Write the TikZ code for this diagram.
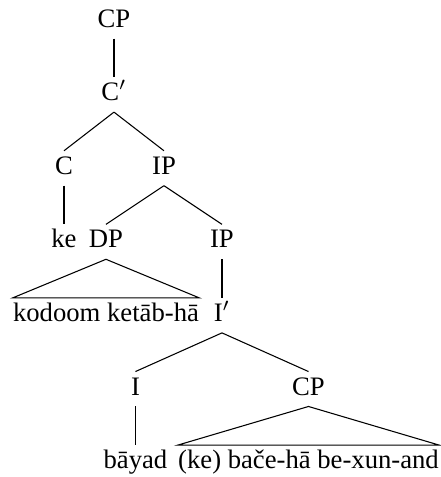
\documentclass[tikz,border=0pt]{standalone}
\usepackage{fontspec}
\setmainfont{Liberation Serif}

\begin{document}
\begin{tikzpicture}[
      level distance=27.6pt,
      every node/.style={inner sep=0pt,font=\normalsize,
        text height=8.6pt,text depth=4.1pt},
      parent anchor=south, child anchor=north,
      roof/.style={edge from parent/.style={draw=none}},
      level 2/.style={sibling distance=37.5pt},
      level 3/.style={sibling distance=43.5pt},
      level 5/.style={sibling distance=64.9pt}
    ]
      \useasboundingbox (-42.75pt,7.9pt) rectangle (122.6pt,-171pt);
      \node (cp) {CP}
        child {node (cbar) {C$'$}
          child {node (c) {C}
            child {node (ke) {ke}}
          }
          child {node (ip) {IP}
            child {node (dp) {DP}
              child[roof] {node (kodoom) {kodoom ketāb-hā}}
            }
            child {node (iptwo) {IP}
              child {node (ibar) {I$'$}
                child {node (i) {I}
                  child {node (bayad) {bāyad}}
                }
                child {node (cptwo) {CP}
                  child[roof] {node (bace) {(ke) bače-hā be-xun-and}}
                }
              }
            }
          }
        };
      % triangles over the unanalysed phrases
      \draw (dp.south) -- (kodoom.north west) -- (kodoom.north east) -- cycle;
      \draw (cptwo.south) -- (bace.north west) -- (bace.north east) -- cycle;
    \end{tikzpicture}
\end{document}
